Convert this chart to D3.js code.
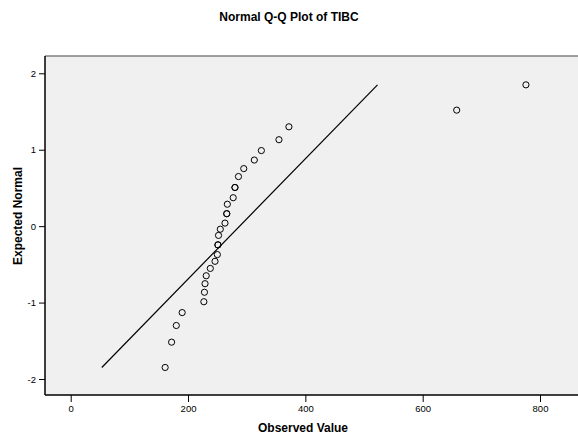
<!DOCTYPE html>
<html>
<head>
<meta charset="utf-8">
<script src="https://cdn.jsdelivr.net/npm/d3@7"></script>
<style>
  html, body { margin: 0; padding: 0; background: #ffffff; }
  svg { display: block; }
  text { font-family: "Liberation Sans", Arial, sans-serif; fill: #000; }
</style>
</head>
<body>
<svg id="chart" width="578" height="441"></svg>
<script>
// Observed TIBC values (sorted) and their expected normal quantiles
const observed = [161, 172, 180, 190, 227, 228, 229, 231, 238, 246, 250, 251, 251, 252, 255,
                  263, 266, 266, 267, 277, 280, 280, 286, 295, 313, 325, 355, 372, 658, 776];
const expectedNormal = [-1.849, -1.518, -1.300, -1.131, -0.989, -0.865, -0.753, -0.649, -0.553, -0.460,
                        -0.372, -0.245, -0.245, -0.121, -0.040, 0.040, 0.163, 0.163, 0.287, 0.372,
                        0.506, 0.506, 0.649, 0.753, 0.865, 0.989, 1.131, 1.300, 1.518, 1.849];
// Reference line endpoints (observed, expected)
const refLineX = [53, 523];
const refLineY = [-1.849, 1.849];
const xTicks = [0, 200, 400, 600, 800];
const yTicks = [-2, -1, 0, 1, 2];
const title = "Normal Q-Q Plot of TIBC";
const xLabel = "Observed Value";
const yLabel = "Expected Normal";

const svg = d3.select("#chart");
const frame = { left: 45, top: 56, right: 580, bottom: 395 };

const x = d3.scaleLinear().domain([0, 800]).range([70.7, 540]);
const y = d3.scaleLinear().domain([-2, 2]).range([379, 73.3]);

// plot background
svg.append("rect")
  .attr("x", frame.left).attr("y", frame.top)
  .attr("width", frame.right - frame.left).attr("height", frame.bottom - frame.top)
  .attr("fill", "#f0f0f0");

// top border (gray)
svg.append("line")
  .attr("x1", frame.left).attr("x2", frame.right)
  .attr("y1", frame.top).attr("y2", frame.top)
  .attr("stroke", "#808080").attr("stroke-width", 1.5);

// reference line
svg.append("line")
  .attr("x1", x(refLineX[0])).attr("y1", y(refLineY[0]))
  .attr("x2", x(refLineX[1])).attr("y2", y(refLineY[1]))
  .attr("stroke", "#000").attr("stroke-width", 1.2);

// points
svg.append("g").selectAll("circle")
  .data(observed.map((v, i) => ({ v, e: expectedNormal[i] })))
  .join("circle")
  .attr("cx", d => x(d.v))
  .attr("cy", d => y(d.e))
  .attr("r", 3.1)
  .attr("fill", "none")
  .attr("stroke", "#000")
  .attr("stroke-width", 1);

// axes
const fmt = d => String(d);
const xAxis = d3.axisBottom(x).tickValues(xTicks).tickFormat(fmt).tickSize(7).tickPadding(3).tickSizeOuter(0);
const gx = svg.append("g").attr("transform", `translate(0,${frame.bottom})`).call(xAxis);
gx.select(".domain").remove();
gx.selectAll(".tick line").attr("stroke", "#000").attr("stroke-width", 1);
gx.selectAll(".tick text").attr("font-size", "9.5px").attr("font-family", "Liberation Sans, Arial, sans-serif").attr("fill", "#222");

const yAxis = d3.axisLeft(y).tickValues(yTicks).tickFormat(fmt).tickSize(6).tickPadding(3).tickSizeOuter(0);
const gy = svg.append("g").attr("transform", `translate(${frame.left},0)`).call(yAxis);
gy.select(".domain").remove();
gy.selectAll(".tick line").attr("stroke", "#000").attr("stroke-width", 1);
gy.selectAll(".tick text").attr("font-size", "9.5px").attr("font-family", "Liberation Sans, Arial, sans-serif").attr("fill", "#222");

// left and bottom frame lines
svg.append("line")
  .attr("x1", frame.left).attr("x2", frame.left)
  .attr("y1", frame.top).attr("y2", frame.bottom)
  .attr("stroke", "#000").attr("stroke-width", 1.5);
svg.append("line")
  .attr("x1", frame.left).attr("x2", frame.right)
  .attr("y1", frame.bottom).attr("y2", frame.bottom)
  .attr("stroke", "#000").attr("stroke-width", 1.5);

// title
svg.append("text")
  .attr("x", 289).attr("y", 21)
  .attr("text-anchor", "middle")
  .attr("font-size", "12px").attr("font-weight", "bold")
  .text(title);

// x label
svg.append("text")
  .attr("x", 303).attr("y", 432)
  .attr("text-anchor", "middle")
  .attr("font-size", "12px").attr("font-weight", "bold")
  .text(xLabel);

// y label
svg.append("text")
  .attr("transform", "translate(22,216) rotate(-90)")
  .attr("text-anchor", "middle")
  .attr("font-size", "12px").attr("font-weight", "bold")
  .text(yLabel);
</script>
</body>
</html>
